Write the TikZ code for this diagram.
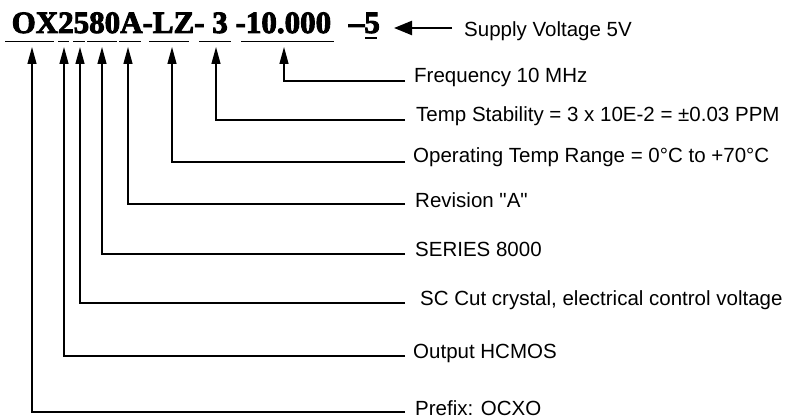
\documentclass[tikz,border=0pt]{standalone}
\usepackage{fontspec}
\setmainfont{Liberation Serif}
\newfontfamily\titlefont{Liberation Serif}[Ligatures=TeX, FakeBold=3]
\newfontfamily\arial{Liberation Sans}
\usetikzlibrary{arrows.meta}
\tikzset{
  titletext/.style={anchor=base west, inner sep=0pt, font=\titlefont\bfseries\fontsize{31}{32}\selectfont},
  labeltext/.style={anchor=base west, inner sep=0pt, font=\arial\fontsize{20.5}{22}\selectfont},
  uline/.style={line width=1.3pt},
  callout/.style={line width=1.3pt, -{Triangle[length=17pt,width=9pt]}},
  supplyarrow/.style={line width=2.4pt, -{Triangle[length=18pt,width=14pt]}},
}
\begin{document}
\begin{tikzpicture}[x=1pt,y=-1pt]
\useasboundingbox (0,0) rectangle (799,419);

% title
\node[titletext] (title) at (11.5,33) {OX2580A-LZ- 3 -10.000 \hspace{10pt}--5};

% underlines
\draw[uline] (5,41.5) -- (54,41.5);
\draw[uline] (58,41.5) -- (69,41.5);
\draw[uline] (73,41.5) -- (85,41.5);
\draw[uline] (87,41.5) -- (117,41.5);
\draw[uline] (119,41.5) -- (141,41.5);
\draw[uline] (149,41.5) -- (189,41.5);
\draw[uline] (199,41.5) -- (231,41.5);
\draw[uline] (241,41.5) -- (334,41.5);
\draw[uline] (365,38) -- (377,38);

% arrow tips
\coordinate (t1) at (32,47);
\coordinate (t2) at (64,47);
\coordinate (t3) at (80,47);
\coordinate (t4) at (102,47);
\coordinate (t5) at (128,47);
\coordinate (t6) at (172,47);
\coordinate (t7) at (216,47);
\coordinate (t8) at (284,47);

% label line ends
\coordinate (e1) at (405,412);
\coordinate (e2) at (405,356);
\coordinate (e3) at (405,303);
\coordinate (e4) at (405,254);
\coordinate (e5) at (405,204);
\coordinate (e6) at (405,162);
\coordinate (e7) at (405,120);
\coordinate (e8) at (405,81);

% labels
\node[labeltext] (l1) at (415,415.5) {Prefix: OCXO};
\node[labeltext] (l2) at (413,358) {Output HCMOS};
\node[labeltext] (l3) at (420,305) {SC Cut crystal, electrical control voltage};
\node[labeltext] (l4) at (415,257) {SERIES 8000};
\node[labeltext] (l5) at (415,208) {Revision "A"};
\node[labeltext] (l6) at (413,163) {Operating Temp Range = 0°C to +70°C};
\node[labeltext] (l7) at (416,122) {Temp Stability = 3 x 10E-2 = ±0.03 PPM};
\node[labeltext] (l8) at (414,83) {Frequency 10 MHz};
\node[labeltext] (l9) at (464,37) {Supply Voltage 5V};

% connectors
\draw[callout] (e1) -| (t1);
\draw[callout] (e2) -| (t2);
\draw[callout] (e3) -| (t3);
\draw[callout] (e4) -| (t4);
\draw[callout] (e5) -| (t5);
\draw[callout] (e6) -| (t6);
\draw[callout] (e7) -| (t7);
\draw[callout] (e8) -| (t8);

\coordinate (s0) at (452,28);
\coordinate (s1) at (394,28);
\draw[supplyarrow] (s0) -- (s1);
\end{tikzpicture}
\end{document}
